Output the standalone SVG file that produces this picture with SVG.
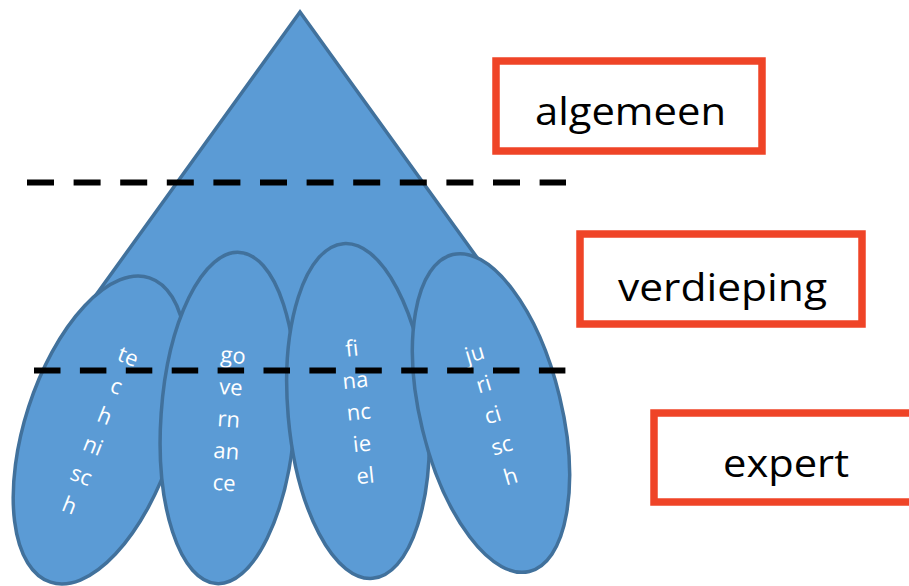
<svg xmlns="http://www.w3.org/2000/svg" width="909" height="586" viewBox="0 0 909 586">
<style>
.blue{fill:#5B9BD5;stroke:#41719C;stroke-width:3.5;stroke-linejoin:miter}
.lbl{font-family:"Open Sans","Liberation Sans",sans-serif;font-size:22px;fill:#ffffff;text-anchor:middle}
.box{fill:#ffffff;stroke:#EF4427;stroke-width:7.5}
.btxt{font-family:"Open Sans","Liberation Sans",sans-serif;font-size:39px;fill:#000000;text-anchor:middle}
.dash{stroke:#000000;stroke-width:6;fill:none}
</style>
<rect width="909" height="586" fill="#ffffff"/>
<g id="triangle">
<polygon class="blue" points="300,12 65,338 535,338"/>
</g>
<g id="technisch">
<ellipse class="blue" cx="100" cy="430" rx="75" ry="160" transform="rotate(18 100 430)"/>
<g transform="translate(128,357) rotate(21.5)">
<text class="lbl" x="0" y="7">te</text>
<text class="lbl" x="0" y="39">c</text>
<text class="lbl" x="0" y="71">h</text>
<text class="lbl" x="0" y="103">ni</text>
<text class="lbl" x="0" y="135">sc</text>
<text class="lbl" x="0" y="167">h</text>
</g>
</g>
<g id="governance">
<ellipse class="blue" cx="228" cy="418" rx="67" ry="166" transform="rotate(4 228 418)"/>
<g transform="translate(233,357) rotate(4)">
<text class="lbl" x="0" y="6">go</text>
<text class="lbl" x="0" y="38">ve</text>
<text class="lbl" x="0" y="70">rn</text>
<text class="lbl" x="0" y="102">an</text>
<text class="lbl" x="0" y="134">ce</text>
</g>
</g>
<g id="financieel">
<ellipse class="blue" cx="358" cy="411" rx="70" ry="168" transform="rotate(-5 358 411)"/>
<g transform="translate(352,349) rotate(-6)">
<text class="lbl" x="0" y="7">fi</text>
<text class="lbl" x="0" y="39">na</text>
<text class="lbl" x="0" y="71">nc</text>
<text class="lbl" x="0" y="103">ie</text>
<text class="lbl" x="0" y="135">el</text>
</g>
</g>
<g id="juridisch">
<ellipse class="blue" cx="491" cy="413" rx="70.5" ry="163" transform="rotate(-13.6 491 413)"/>
<g transform="translate(475,355) rotate(-16.4)">
<text class="lbl" x="0" y="6">ju</text>
<text class="lbl" x="0" y="38">ri</text>
<text class="lbl" x="0" y="70">ci</text>
<text class="lbl" x="0" y="102">sc</text>
<text class="lbl" x="0" y="134">h</text>
</g>
</g>
<g id="connectors">
<line class="dash" x1="27" y1="182.5" x2="566" y2="182.5" stroke-dasharray="27 19.6"/>
<line class="dash" x1="34" y1="370.5" x2="572" y2="370.5" stroke-dasharray="26.5 19.4"/>
</g>
<g id="algemeen">
<rect class="box" x="496" y="61" width="266" height="90"/>
<text class="btxt" x="630.5" y="125" textLength="191" lengthAdjust="spacingAndGlyphs">algemeen</text>
</g>
<g id="verdieping">
<rect class="box" x="580" y="234" width="282" height="90"/>
<text class="btxt" x="722.5" y="301" textLength="209" lengthAdjust="spacingAndGlyphs">verdieping</text>
</g>
<g id="expert">
<rect class="box" x="654" y="413" width="270" height="89"/>
<text class="btxt" x="786" y="477" textLength="126" lengthAdjust="spacingAndGlyphs">expert</text>
</g>
</svg>
